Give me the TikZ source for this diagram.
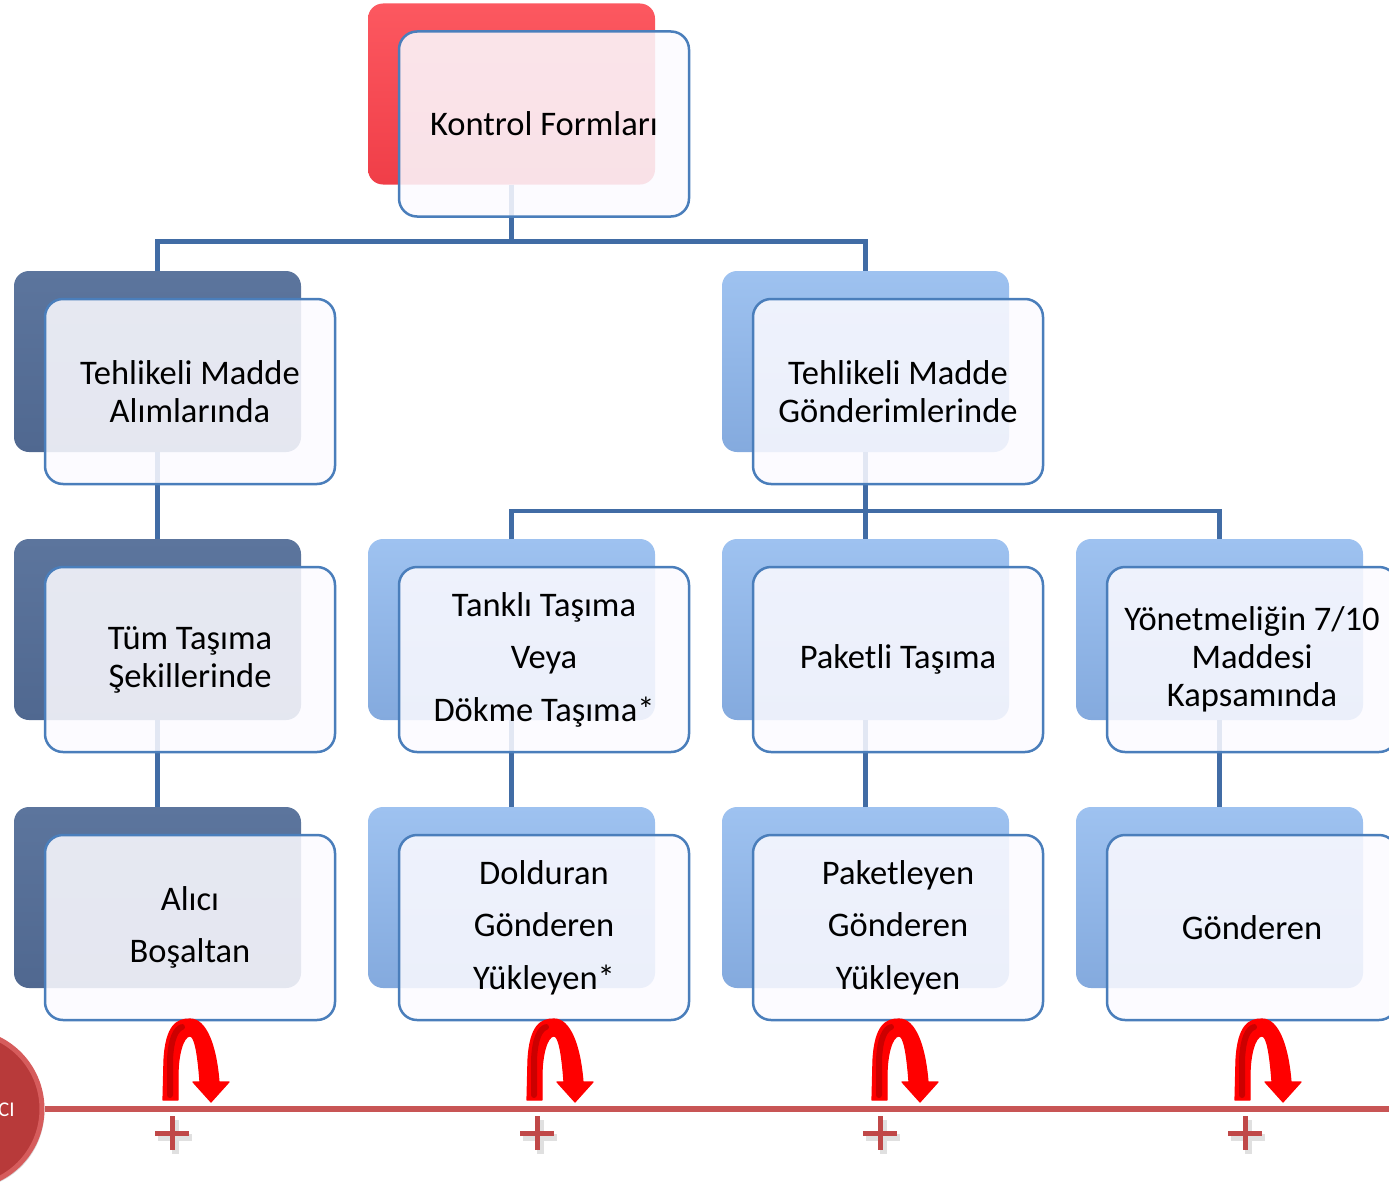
\documentclass[tikz,border=0pt]{standalone}
\usepackage{fontspec}
\setmainfont{Carlito}
\usetikzlibrary{shadows}
\definecolor{lineblue}{RGB}{65,108,165}
\definecolor{frontedge}{RGB}{74,126,187}
\definecolor{frontfill}{RGB}{251,250,255}
\definecolor{darkbackT}{RGB}{92,117,157}
\definecolor{darkbackB}{RGB}{80,104,144}
\definecolor{lightbackT}{RGB}{158,194,240}
\definecolor{lightbackB}{RGB}{132,170,222}
\definecolor{redbackT}{RGB}{252,88,96}
\definecolor{redbackB}{RGB}{240,62,72}
\definecolor{tline}{RGB}{200,85,85}
\definecolor{plusred}{RGB}{192,72,72}
\definecolor{circred}{RGB}{184,58,58}
\definecolor{circrim}{RGB}{214,92,92}
\definecolor{arrred}{RGB}{255,0,0}
\definecolor{arrdark}{RGB}{204,0,0}
\begin{document}
\begin{tikzpicture}[x=1pt,y=-1pt,
  backbox/.style={minimum width=287pt,minimum height=181pt,rounded corners=15pt,inner sep=0pt},
  darkb/.style={backbox,top color=darkbackT,bottom color=darkbackB},
  lightb/.style={backbox,top color=lightbackT,bottom color=lightbackB},
  redb/.style={backbox,top color=redbackT,bottom color=redbackB},
  frontbox/.style={draw=frontedge,line width=2.5pt,fill=frontfill,fill opacity=0.87,text opacity=1,draw opacity=1,rounded corners=18pt,minimum width=290pt,minimum height=185pt,inner sep=0pt,align=center,font=\fontsize{34.5}{38}\selectfont},
  wide/.style={font=\fontsize{34.5}{52.5}\selectfont},
  conn/.style={draw=lineblue,line width=4.5pt},
  tl/.style={draw=tline,line width=6pt},
  plusline/.style={draw=plusred,line width=5pt},
  plusshadow/.style={draw=black,opacity=0.12,line width=7pt},
  arrow/.style={fill=arrred,draw=arrred,line width=1.2pt,line join=round},
  stripe/.style={draw=arrdark,line width=6pt,line cap=round}
]
\useasboundingbox (0,0) rectangle (1389,1199);
\clip (0,0) rectangle (1389,1199);

% back boxes
\node[redb] (b0) at (511.5,94) {};
\node[darkb] (b1L) at (157.5,361.5) {};
\node[lightb] (b1R) at (865.5,361.5) {};
\node[darkb] (b2a) at (157.5,629.5) {};
\node[lightb] (b2b) at (511.5,629.5) {};
\node[lightb] (b2c) at (865.5,629.5) {};
\node[lightb] (b2d) at (1219.5,629.5) {};
\node[darkb] (b3a) at (157.5,897.5) {};
\node[lightb] (b3b) at (511.5,897.5) {};
\node[lightb] (b3c) at (865.5,897.5) {};
\node[lightb] (b3d) at (1219.5,897.5) {};

% connectors
\draw[conn] (b0.south) -- ++(0,57) coordinate (j0) -| (b1L.north);
\draw[conn] (j0) -| (b1R.north);
\draw[conn] (b1L.south) -- (b2a.north);
\draw[conn] (b1R.south) -- ++(0,59) coordinate (j1);
\draw[conn] (j1) -| (b2b.north);
\draw[conn] (j1) -| (b2d.north);
\draw[conn] (j1) -- (b2c.north);
\draw[conn] (b2a.south) -- (b3a.north);
\draw[conn] (b2b.south) -- (b3b.north);
\draw[conn] (b2c.south) -- (b3c.north);
\draw[conn] (b2d.south) -- (b3d.north);

% front boxes
\node[frontbox] (f0) at (544,124) {Kontrol Formları};
\node[frontbox] (f1L) at (190,391.5) {Tehlikeli Madde\\Alımlarında};
\node[frontbox] (f1R) at (898,391.5) {Tehlikeli Madde\\Gönderimlerinde};
\node[frontbox] (f2a) at (190,659.5) {Tüm Taşıma\\Şekillerinde};
\node[frontbox,wide] (f2b) at (544,659.5) {Tanklı Taşıma\\Veya\\Dökme Taşıma*};
\node[frontbox] (f2c) at (898,659.5) {Paketli Taşıma};
\node[frontbox] (f2d) at (1252,659.5) {Yönetmeliğin 7/10\\Maddesi\\Kapsamında};
\node[frontbox,wide] (f3a) at (190,927.5) {Alıcı\\Boşaltan};
\node[frontbox,wide] (f3b) at (544,927.5) {Dolduran\\Gönderen\\Yükleyen*};
\node[frontbox,wide] (f3c) at (898,927.5) {Paketleyen\\Gönderen\\Yükleyen};
\node[frontbox] (f3d) at (1252,927.5) {Gönderen};

% timeline
\coordinate (tend) at (1395,1109);
\node[circle,fill=circred,draw=circrim,line width=5pt,minimum size=156pt,drop shadow={opacity=0.3}] (circ) at (-36,1109) {};
\draw[tl] (circ.east) -- (tend);
\node[text=white,anchor=west,inner sep=0pt,font=\fontsize{21}{21}\selectfont] (ct) at (-2,1110) {CI};

% plus signs
\foreach \px in {172,537,880,1245} {
  \draw[plusshadow] (\px-14,1137) -- (\px+20,1137) (\px+3,1120) -- (\px+3,1154);
  \draw[plusline] (\px-17,1133) -- (\px+17,1133) (\px,1116) -- (\px,1150);
}

% curved arrows
\foreach \ax in {163,527,872,1235} {
  \begin{scope}[shift={(\ax,1100)}]
    \filldraw[arrow] (0,0) -- (1,-40) .. controls (3,-75) and (14,-81) .. (27,-81)
      .. controls (43,-81) and (53,-55) .. (56,-18) -- (66,-18) -- (48,2) -- (30,-18) -- (37,-18)
      .. controls (35,-45) and (32,-64) .. (27,-64) .. controls (20,-64) and (15,-45) .. (15,-25) -- (15,0) -- cycle;
    \draw[stripe] (7,-5) -- (7,-40) .. controls (8,-62) and (13,-71) .. (19,-73);
  \end{scope}
}
\end{tikzpicture}
\end{document}
